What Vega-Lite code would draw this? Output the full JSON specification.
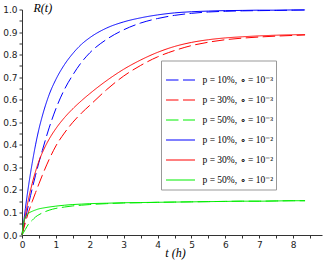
{
  "$schema": "https://vega.github.io/schema/vega-lite/v6.json",
  "width": 300,
  "height": 225.5,
  "autosize": {"type": "none"},
  "padding": {"left": 22, "top": 9.5, "right": 5, "bottom": 25},
  "config": {
    "view": {"stroke": null},
    "font": "DejaVu Sans",
    "legend": {
      "orient": "none",
      "legendX": 139,
      "legendY": 51,
      "strokeColor": "#999999",
      "fillColor": "#ffffff",
      "padding": 4.5,
      "symbolType": "stroke",
      "symbolSize": 841,
      "symbolStrokeWidth": 1,
      "labelFont": "Liberation Serif",
      "labelFontSize": 9.5,
      "labelColor": "#000000",
      "labelOffset": 7,
      "labelLimit": 300,
      "rowPadding": -9.6,
      "title": null
    }
  },
  "data": {
    "values": [
      {"t": 0, "b2": 0, "b3": 0, "r2": 0, "r3": 0, "g2": 0, "g3": 0},
      {"t": 0.05, "b2": 0.058, "b3": 0.035, "r2": 0.045, "r3": 0.028, "g2": 0.055, "g3": 0.012},
      {"t": 0.1, "b2": 0.118, "b3": 0.07, "r2": 0.088, "r3": 0.055, "g2": 0.08, "g3": 0.025},
      {"t": 0.2, "b2": 0.225, "b3": 0.14, "r2": 0.165, "r3": 0.105, "g2": 0.097, "g3": 0.05},
      {"t": 0.3, "b2": 0.318, "b3": 0.205, "r2": 0.228, "r3": 0.148, "g2": 0.105, "g3": 0.065},
      {"t": 0.4, "b2": 0.4, "b3": 0.265, "r2": 0.282, "r3": 0.188, "g2": 0.111, "g3": 0.08},
      {"t": 0.5, "b2": 0.47, "b3": 0.322, "r2": 0.328, "r3": 0.227, "g2": 0.116, "g3": 0.09},
      {"t": 0.6, "b2": 0.528, "b3": 0.375, "r2": 0.365, "r3": 0.265, "g2": 0.119, "g3": 0.098},
      {"t": 0.8, "b2": 0.622, "b3": 0.475, "r2": 0.425, "r3": 0.335, "g2": 0.124, "g3": 0.11},
      {"t": 1, "b2": 0.69, "b3": 0.56, "r2": 0.472, "r3": 0.395, "g2": 0.128, "g3": 0.118},
      {"t": 1.25, "b2": 0.755, "b3": 0.645, "r2": 0.52, "r3": 0.452, "g2": 0.132, "g3": 0.124},
      {"t": 1.5, "b2": 0.805, "b3": 0.71, "r2": 0.56, "r3": 0.5, "g2": 0.135, "g3": 0.129},
      {"t": 1.75, "b2": 0.845, "b3": 0.765, "r2": 0.595, "r3": 0.54, "g2": 0.137, "g3": 0.132},
      {"t": 2, "b2": 0.875, "b3": 0.808, "r2": 0.627, "r3": 0.575, "g2": 0.139, "g3": 0.135},
      {"t": 2.5, "b2": 0.918, "b3": 0.868, "r2": 0.685, "r3": 0.645, "g2": 0.141, "g3": 0.139},
      {"t": 3, "b2": 0.945, "b3": 0.91, "r2": 0.735, "r3": 0.705, "g2": 0.143, "g3": 0.142},
      {"t": 3.5, "b2": 0.963, "b3": 0.94, "r2": 0.776, "r3": 0.752, "g2": 0.144, "g3": 0.143},
      {"t": 4, "b2": 0.976, "b3": 0.96, "r2": 0.81, "r3": 0.79, "g2": 0.145, "g3": 0.145},
      {"t": 4.5, "b2": 0.985, "b3": 0.974, "r2": 0.836, "r3": 0.818, "g2": 0.146, "g3": 0.146},
      {"t": 5, "b2": 0.99, "b3": 0.983, "r2": 0.854, "r3": 0.84, "g2": 0.147, "g3": 0.147},
      {"t": 5.5, "b2": 0.993, "b3": 0.989, "r2": 0.866, "r3": 0.855, "g2": 0.148, "g3": 0.148},
      {"t": 6, "b2": 0.995, "b3": 0.992, "r2": 0.874, "r3": 0.866, "g2": 0.149, "g3": 0.149},
      {"t": 6.5, "b2": 0.996, "b3": 0.994, "r2": 0.879, "r3": 0.873, "g2": 0.15, "g3": 0.15},
      {"t": 7, "b2": 0.997, "b3": 0.995, "r2": 0.883, "r3": 0.878, "g2": 0.15, "g3": 0.15},
      {"t": 7.5, "b2": 0.997, "b3": 0.996, "r2": 0.886, "r3": 0.882, "g2": 0.151, "g3": 0.151},
      {"t": 8, "b2": 0.998, "b3": 0.997, "r2": 0.888, "r3": 0.885, "g2": 0.152, "g3": 0.152},
      {"t": 8.35, "b2": 0.998, "b3": 0.998, "r2": 0.889, "r3": 0.887, "g2": 0.152, "g3": 0.152}
    ]
  },
  "transform": [{"fold": ["b3", "r3", "g3", "b2", "r2", "g2"], "as": ["s", "v"]}],
  "mark": {"type": "line", "strokeWidth": 1, "interpolate": "monotone", "clip": false},
  "encoding": {
    "x": {
      "field": "t",
      "type": "quantitative",
      "scale": {"domain": [0, 8.85], "nice": false, "zero": false},
      "axis": {
        "values": [0, 0.5, 1, 1.5, 2, 2.5, 3, 3.5, 4, 4.5, 5, 5.5, 6, 6.5, 7, 7.5, 8, 8.5],
        "labelExpr": "datum.value % 1 == 0 ? format(datum.value, 'd') : ''",
        "labelOverlap": false,
        "labelFlush": false,
        "grid": false,
        "tickSize": 3,
        "labelPadding": 2,
        "labelFontSize": 9,
        "labelColor": "#222222",
        "domainColor": "#333333",
        "tickColor": "#333333",
        "title": "t (h)",
        "titleFont": "Liberation Serif",
        "titleFontStyle": "italic",
        "titleFontWeight": "normal",
        "titleFontSize": 12,
        "titleColor": "#000000",
        "titleX": 153,
        "titleY": 17,
        "titleBaseline": "middle"
      }
    },
    "y": {
      "field": "v",
      "type": "quantitative",
      "scale": {"domain": [0, 1], "nice": false},
      "axis": {
        "values": [0, 0.05, 0.1, 0.15, 0.2, 0.25, 0.3, 0.35, 0.4, 0.45, 0.5, 0.55, 0.6, 0.65, 0.7, 0.75, 0.8, 0.85, 0.9, 0.95, 1],
        "labelExpr": "round(datum.value * 100) % 10 == 0 ? format(datum.value, '.1f') : ''",
        "labelOverlap": false,
        "labelFlush": false,
        "grid": false,
        "tickSize": 3,
        "labelPadding": 2,
        "labelFontSize": 9,
        "labelColor": "#222222",
        "domainColor": "#333333",
        "tickColor": "#333333",
        "title": "R(t)",
        "titleFont": "Liberation Serif",
        "titleFontStyle": "italic",
        "titleFontWeight": "normal",
        "titleFontSize": 12,
        "titleColor": "#000000",
        "titleAngle": 0,
        "titleAlign": "left",
        "titleBaseline": "middle",
        "titleX": 11,
        "titleY": -2
      }
    },
    "color": {
      "field": "s",
      "type": "nominal",
      "scale": {
        "domain": ["b3", "r3", "g3", "b2", "r2", "g2"],
        "range": ["#0000ff", "#ff0000", "#00ee00", "#0101fe", "#fe0101", "#01ed01"]
      },
      "legend": {
        "labelExpr": "datum.label == 'b3' ? 'p = 10%, ∘ = 10⁻³' : datum.label == 'r3' ? 'p = 30%, ∘ = 10⁻³' : datum.label == 'g3' ? 'p = 50%, ∘ = 10⁻³' : datum.label == 'b2' ? 'p = 10%, ∘ = 10⁻²' : datum.label == 'r2' ? 'p = 30%, ∘ = 10⁻²' : 'p = 50%, ∘ = 10⁻²'"
      }
    },
    "strokeDash": {
      "field": "s",
      "type": "nominal",
      "scale": {
        "domain": ["b3", "r3", "g3", "b2", "r2", "g2"],
        "range": [[12.5, 4.5], [12.5, 4.5], [12.5, 4.5], [1, 0], [1, 0], [1, 0]]
      },
      "legend": {
        "labelExpr": "datum.label == 'b3' ? 'p = 10%, ∘ = 10⁻³' : datum.label == 'r3' ? 'p = 30%, ∘ = 10⁻³' : datum.label == 'g3' ? 'p = 50%, ∘ = 10⁻³' : datum.label == 'b2' ? 'p = 10%, ∘ = 10⁻²' : datum.label == 'r2' ? 'p = 30%, ∘ = 10⁻²' : 'p = 50%, ∘ = 10⁻²'"
      }
    }
  }
}
